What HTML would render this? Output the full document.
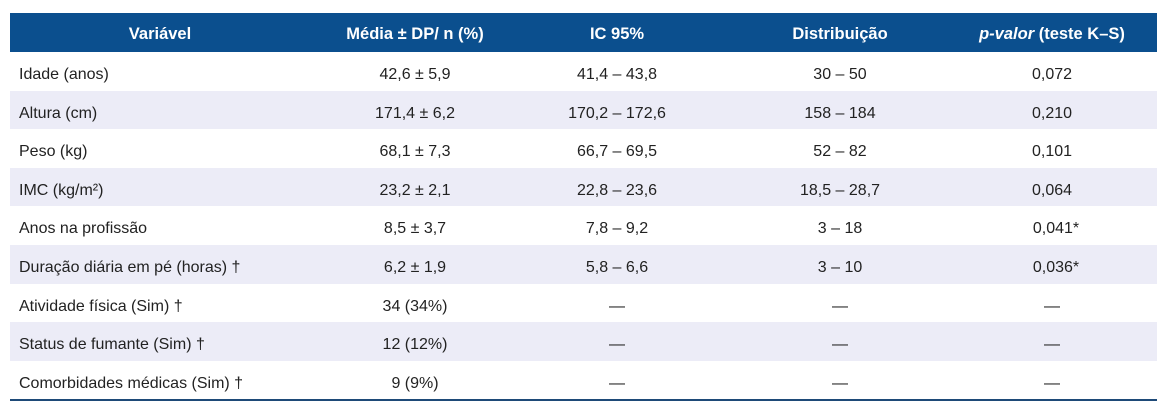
<!DOCTYPE html>
<html><head><meta charset="utf-8"><style>
body{margin:0;width:1169px;height:417px;background:#fff;font-family:"Liberation Sans","DejaVu Sans",sans-serif;color:#222;position:relative;overflow:hidden}
.hdr{position:absolute;left:10px;top:13px;width:1147px;height:39px;background:#0b4f8e}
.row{position:absolute;left:10px;width:1147px;height:38.6px}
.sh{background:#ececf7}
.c{position:absolute;top:3px;line-height:39px;font-size:16px;white-space:nowrap;transform:translateX(-50%)}
.l{position:absolute;left:9px;top:3px;line-height:39px;font-size:16px;white-space:nowrap}
.hdr .c{color:#fff;font-weight:bold;font-size:16.5px;top:2px}
.line{position:absolute;left:10px;top:399px;width:1147px;height:2px;background:#1e4a78}
</style></head><body>
<div class="hdr">
<span class="c" style="left:150px">Variável</span>
<span class="c" style="left:405px">Média ± DP/ n (%)</span>
<span class="c" style="left:607px">IC 95%</span>
<span class="c" style="left:830px">Distribuição</span>
<span class="c" style="left:1042px"><i>p-valor</i> (teste K–S)</span>
</div>
<div class="row" style="top:52px"><span class="l">Idade (anos)</span><span class="c" style="left:405px">42,6 ± 5,9</span><span class="c" style="left:607px">41,4 – 43,8</span><span class="c" style="left:830px">30 – 50</span><span class="c" style="left:1042px">0,072</span></div>
<div class="row sh" style="top:90.6px"><span class="l">Altura (cm)</span><span class="c" style="left:405px">171,4 ± 6,2</span><span class="c" style="left:607px">170,2 – 172,6</span><span class="c" style="left:830px">158 – 184</span><span class="c" style="left:1042px">0,210</span></div>
<div class="row" style="top:129.2px"><span class="l">Peso (kg)</span><span class="c" style="left:405px">68,1 ± 7,3</span><span class="c" style="left:607px">66,7 – 69,5</span><span class="c" style="left:830px">52 – 82</span><span class="c" style="left:1042px">0,101</span></div>
<div class="row sh" style="top:167.8px"><span class="l">IMC (kg/m²)</span><span class="c" style="left:405px">23,2 ± 2,1</span><span class="c" style="left:607px">22,8 – 23,6</span><span class="c" style="left:830px">18,5 – 28,7</span><span class="c" style="left:1042px">0,064</span></div>
<div class="row" style="top:206.4px"><span class="l">Anos na profissão</span><span class="c" style="left:405px">8,5 ± 3,7</span><span class="c" style="left:607px">7,8 – 9,2</span><span class="c" style="left:830px">3 – 18</span><span class="c" style="left:1046px">0,041*</span></div>
<div class="row sh" style="top:245px"><span class="l">Duração diária em pé (horas) †</span><span class="c" style="left:405px">6,2 ± 1,9</span><span class="c" style="left:607px">5,8 – 6,6</span><span class="c" style="left:830px">3 – 10</span><span class="c" style="left:1046px">0,036*</span></div>
<div class="row" style="top:283.6px"><span class="l">Atividade física (Sim) †</span><span class="c" style="left:405px">34 (34%)</span><span class="c" style="left:607px">—</span><span class="c" style="left:830px">—</span><span class="c" style="left:1042px">—</span></div>
<div class="row sh" style="top:322.2px"><span class="l">Status de fumante (Sim) †</span><span class="c" style="left:405px">12 (12%)</span><span class="c" style="left:607px">—</span><span class="c" style="left:830px">—</span><span class="c" style="left:1042px">—</span></div>
<div class="row" style="top:360.8px"><span class="l">Comorbidades médicas (Sim) †</span><span class="c" style="left:405px">9 (9%)</span><span class="c" style="left:607px">—</span><span class="c" style="left:830px">—</span><span class="c" style="left:1042px">—</span></div>
<div class="line"></div>
</body></html>
